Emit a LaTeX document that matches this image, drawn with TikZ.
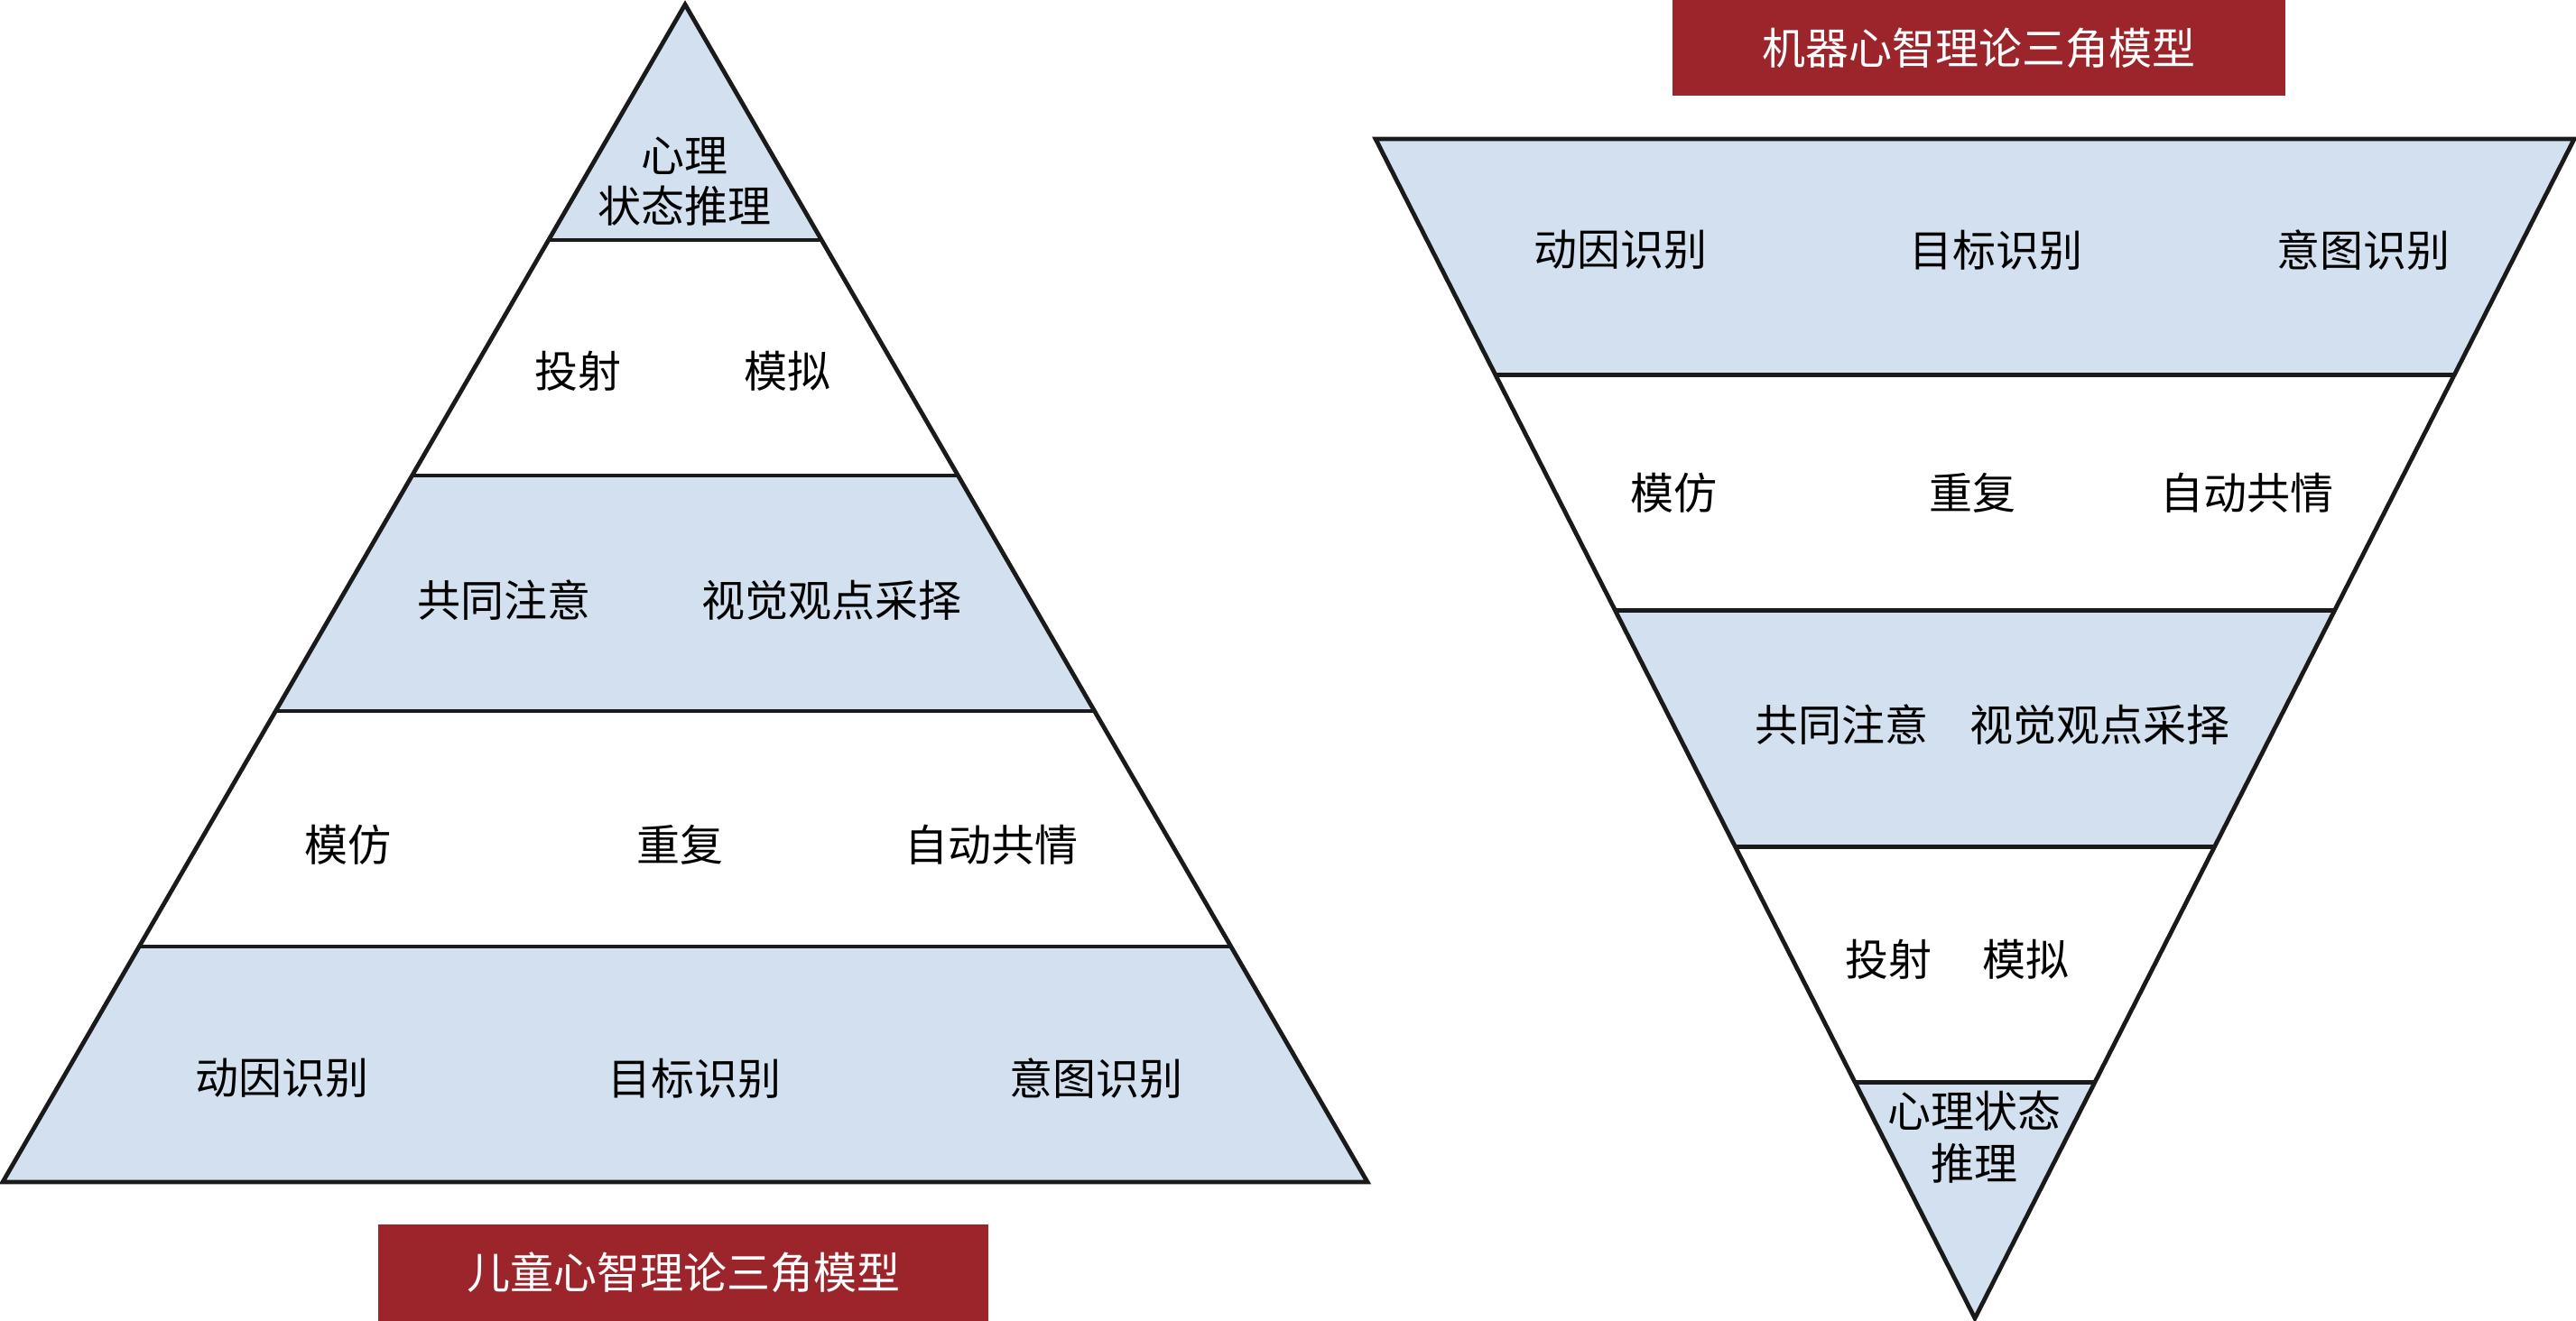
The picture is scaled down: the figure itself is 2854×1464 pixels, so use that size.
\documentclass[tikz,border=0pt]{standalone}
\usepackage{fontspec}
\newfontfamily\cjk{Noto Sans CJK SC}
\usetikzlibrary{calc}
\definecolor{bandblue}{HTML}{D3E0EF}
\definecolor{labelred}{HTML}{9C252B}
\definecolor{edgeline}{HTML}{1A1A1A}
\begin{document}
\begin{tikzpicture}[x=0.25pt,y=-0.25pt,
  band/.style={fill=bandblue},
  edge/.style={draw=edgeline,line width=1.2pt},
  txt/.style={font=\cjk\fontsize{12pt}{14pt}\selectfont,inner sep=0pt,align=center},
  titlebox/.style={fill=labelred,text=white,inner sep=0pt,
    font=\cjk\fontsize{12pt}{14pt}\selectfont}]
\useasboundingbox (0,0) rectangle (2854,1464);
% ---------- left pyramid ----------
\coordinate (LA) at (759,5);
\coordinate (LBL) at (3,1310);
\coordinate (LBR) at (1515,1310);
\foreach \i/\t in {1/0.2,2/0.4,3/0.6,4/0.8}{
  \coordinate (L\i l) at ($(LA)!\t!(LBL)$);
  \coordinate (L\i r) at ($(LA)!\t!(LBR)$);
}
\fill[band] (LA) -- (L1r) -- (L1l) -- cycle;
\fill[band] (L2l) -- (L2r) -- (L3r) -- (L3l) -- cycle;
\fill[band] (L4l) -- (L4r) -- (LBR) -- (LBL) -- cycle;
\foreach \i in {1,2,3,4}{ \draw[edge] (L\i l) -- (L\i r); }
\draw[edge] (LA) -- (LBR) -- (LBL) -- cycle;
% ---------- right inverted pyramid ----------
\coordinate (RA) at (2188,1461);
\coordinate (RTL) at (1524,154);
\coordinate (RTR) at (2852,154);
\foreach \i/\t in {1/0.8,2/0.6,3/0.4,4/0.2}{
  \coordinate (R\i l) at ($(RA)!\t!(RTL)$);
  \coordinate (R\i r) at ($(RA)!\t!(RTR)$);
}
\fill[band] (RTL) -- (RTR) -- (R1r) -- (R1l) -- cycle;
\fill[band] (R2l) -- (R2r) -- (R3r) -- (R3l) -- cycle;
\fill[band] (R4l) -- (R4r) -- (RA) -- cycle;
\foreach \i in {1,2,3,4}{ \draw[edge] (R\i l) -- (R\i r); }
\draw[edge] (RTL) -- (RTR) -- (RA) -- cycle;
% ---------- left texts ----------
\node[txt] (l1) at (758,201) {心理\\状态推理};
\node[txt] (l2a) at (640,411) {投射};
\node[txt] (l2b) at (872,411) {模拟};
\node[txt] (l3a) at (558,665) {共同注意};
\node[txt] (l3b) at (921,665) {视觉观点采择};
\node[txt] (l4a) at (385,936) {模仿};
\node[txt] (l4b) at (753,936) {重复};
\node[txt] (l4c) at (1098,936) {自动共情};
\node[txt] (l5a) at (312,1195) {动因识别};
\node[txt] (l5b) at (769,1195) {目标识别};
\node[txt] (l5c) at (1214,1195) {意图识别};
% ---------- right texts ----------
\node[txt] (r1a) at (1795,277) {动因识别};
\node[txt] (r1b) at (2211,277) {目标识别};
\node[txt] (r1c) at (2618,277) {意图识别};
\node[txt] (r2a) at (1854,546) {模仿};
\node[txt] (r2b) at (2185,546) {重复};
\node[txt] (r2c) at (2489,546) {自动共情};
\node[txt] (r3a) at (2040,803) {共同注意};
\node[txt] (r3b) at (2326,803) {视觉观点采择};
\node[txt] (r4a) at (2092,1063) {投射};
\node[txt] (r4b) at (2244,1063) {模拟};
\node[txt,font=\cjk\fontsize{12pt}{14.5pt}\selectfont] (r5) at (2187,1260) {心理状态\\推理};
% ---------- titles ----------
\node[titlebox,minimum width=169pt,minimum height=26.75pt] (ltitle) at (757,1410.5) {儿童心智理论三角模型};
\node[titlebox,minimum width=169.75pt,minimum height=26.5pt] (rtitle) at (2192.5,53) {机器心智理论三角模型};
\end{tikzpicture}
\end{document}
